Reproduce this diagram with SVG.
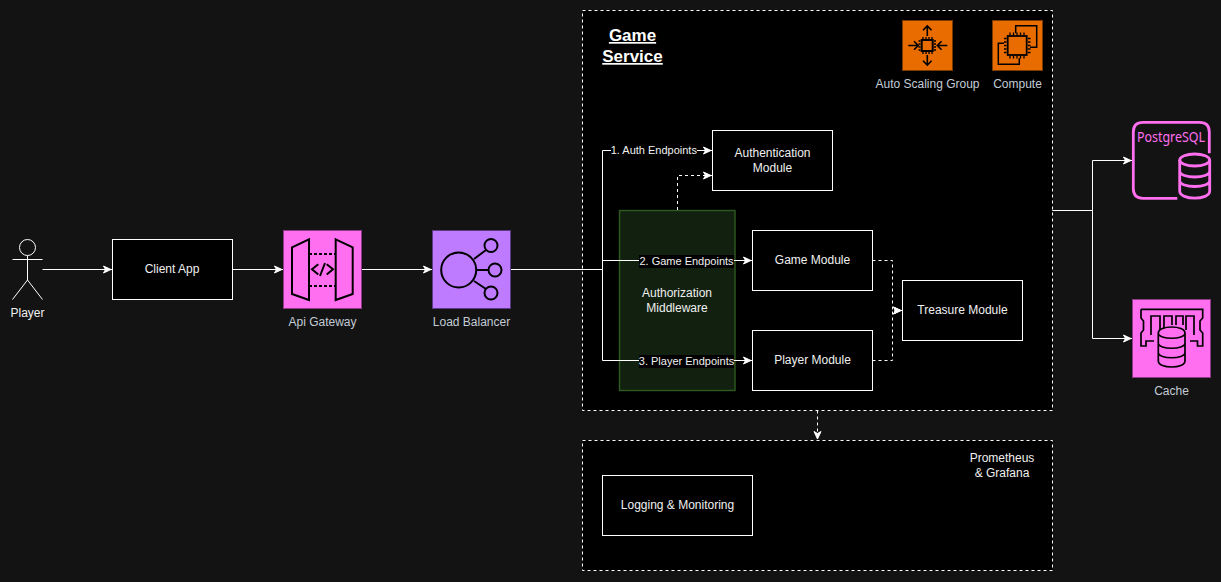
<svg xmlns="http://www.w3.org/2000/svg" width="1221" height="582" viewBox="0 0 1221 582">
<style>
text{font-family:"Liberation Sans",Arial,sans-serif;font-size:12px;fill:#f0f0f0;text-anchor:middle}
.lab{fill:#c3ccd6}
.edge{font-size:11px}
.title{font-size:17px;font-weight:bold;text-decoration:underline;fill:#fff}
.box{fill:#000;stroke:#fff;stroke-width:1}
.zone{fill:#000;stroke:#fff;stroke-width:1;stroke-dasharray:3 3}
.c{fill:none;stroke:#fff;stroke-width:1}
.d{stroke-dasharray:3 3}
.i{fill:none;stroke:#000;stroke-width:2}
.tag{fill:#000}
</style>
<defs>
<marker id="a" markerUnits="userSpaceOnUse" markerWidth="14" markerHeight="14" refX="11" refY="7" orient="auto"><path d="M2.500 3.500L10 7L2.500 10.500L4.500 7Z" fill="#fff" stroke="#fff"/></marker>
</defs>
<rect width="1221" height="582" fill="#131313"/>
<g id="game-service"><rect class="zone" x="582.5" y="10.5" width="470" height="400"/>
<text class="title" x="632.5" y="41">Game</text>
<text class="title" x="632.5" y="62">Service</text></g>
<g id="observability"><rect class="zone" x="582.5" y="440.5" width="470" height="130"/>
<text x="1002" y="462">Prometheus</text><text x="1002" y="477">&amp; Grafana</text></g>
<g id="middleware"><rect x="619.5" y="210.5" width="115.500" height="180" fill="#12210f" stroke="#2d5a1e" stroke-width="1.400"/>
<text x="677" y="297">Authorization</text><text x="677" y="312">Middleware</text></g>
<g id="connectors">
<path class="c" marker-end="url(#a)" d="M42.500 269.500H112"/>
<path class="c" marker-end="url(#a)" d="M232.500 269.500H283"/>
<path class="c" marker-end="url(#a)" d="M361.500 269.500H432"/>
<path class="c" d="M510.500 269.500H602.500"/>
<path class="c" marker-end="url(#a)" d="M602.500 269.500V150.500H712"/>
<path class="c" marker-end="url(#a)" d="M602.500 269.500V260.500H752"/>
<path class="c" marker-end="url(#a)" d="M602.500 269.500V360.500H752"/>
<path class="c d" marker-end="url(#a)" d="M677.500 210V175.500H712"/>
<path class="c d" marker-end="url(#a)" d="M872.500 260.500H892.500V310.500H902"/>
<path class="c d" marker-end="url(#a)" d="M872.500 360.500H892.500V310.500H902"/>
<path class="c d" marker-end="url(#a)" d="M817.500 410.500V440"/>
<path class="c" marker-end="url(#a)" d="M1052.500 210.500H1092.500V160.500H1132"/>
<path class="c" marker-end="url(#a)" d="M1052.500 210.500H1092.500V338.500H1132"/>
<rect class="tag" x="611" y="144" width="86" height="13"/><text class="edge" x="653.800" y="154">1. Auth Endpoints</text>
<rect class="tag" x="639" y="255" width="95" height="13"/><text class="edge" x="686.500" y="265">2. Game Endpoints</text>
<rect class="tag" x="639" y="355" width="95" height="13"/><text class="edge" x="686.500" y="365">3. Player Endpoints</text>
</g>
<g id="player"><g class="c"><circle cx="27.500" cy="247.500" r="8"/><path d="M27.500 255.500V280M12.500 259.500H42.500M27.500 280L12.500 299.500M27.500 280L42.500 299.500"/></g><text x="27.500" y="317">Player</text></g>
<g id="client-app"><rect class="box" x="112.500" y="239.500" width="120" height="60"/><text x="172" y="273">Client App</text></g>
<g id="api-gateway"><rect x="283.500" y="230.500" width="78" height="78" fill="#ff6ff0" stroke="#8d3a84"/>
<g class="i"><path d="M292 247.300L309 239.300V300L292 294Z"/><path d="M335.700 239.300L352.700 247.300V294L335.700 300Z"/><path d="M309 254H336M309 286H336" stroke-dasharray="3 2"/><path d="M318.300 264.300L312 269.300L318.300 274.500M326.700 264.300L333 269.300L326.700 274.500M325 263L320 276"/></g>
<text class="lab" x="322.500" y="326">Api Gateway</text></g>
<g id="load-balancer"><rect x="432.500" y="230.500" width="78" height="78" fill="#bf7bff" stroke="#5c3a86"/>
<g class="i"><circle cx="458.700" cy="270" r="17.500"/><circle cx="491" cy="245.500" r="6.500"/><circle cx="495" cy="270" r="6.500"/><circle cx="491" cy="293" r="6.500"/><path d="M474 259L486 250M476.500 270H488.500M474 281L486 289"/></g>
<text class="lab" x="471.500" y="326">Load Balancer</text></g>
<g id="auth-module"><rect class="box" x="712.500" y="130.500" width="120" height="60"/><text x="772.500" y="157">Authentication</text><text x="772.500" y="172">Module</text></g>
<g id="game-module"><rect class="box" x="752.500" y="230.500" width="120" height="60"/><text x="812.500" y="264">Game Module</text></g>
<g id="player-module"><rect class="box" x="752.500" y="330.500" width="120" height="60"/><text x="812.500" y="364">Player Module</text></g>
<g id="treasure-module"><rect class="box" x="902.500" y="280.500" width="120" height="60"/><text x="962.500" y="314">Treasure Module</text></g>
<g id="logging"><rect class="box" x="602.500" y="475.500" width="150" height="60"/><text x="677.500" y="509">Logging &amp; Monitoring</text></g>
<g id="auto-scaling"><rect x="902.500" y="20.500" width="50" height="50" fill="#e86c00" stroke="#7a3a00"/>
<g class="i" style="stroke-width:1.300"><rect x="921.700" y="40" width="11" height="11" style="stroke-width:2"/><path d="M923 37V39M926 37V39M929 37V39M932 37V39M923 52V54M926 52V54M929 52V54M932 52V54M918.500 41H920.500M918.500 44H920.500M918.500 47H920.500M918.500 50H920.500M934 41H936M934 44H936M934 47H936M934 50H936"/><path style="stroke-width:1.600" d="M927.300 26V36M923 30.300L927.300 26L931.600 30.300M927.300 55V65M923 60.700L927.300 65L931.600 60.700M908.300 45.500H918.300M914 41.200L918.300 45.500L914 49.800M937.300 45.500H947.300M941.600 41.200L937.300 45.500L941.600 49.800"/></g>
<text class="lab" x="927.500" y="88">Auto Scaling Group</text></g>
<g id="compute"><rect x="992.500" y="20.500" width="50" height="50" fill="#e86c00" stroke="#7a3a00"/>
<g class="i" style="stroke-width:1.300"><rect x="1007.700" y="36" width="19" height="19" style="stroke-width:1.800"/><path d="M1010 32.500V35M1013.500 32.500V35M1017 32.500V35M1020.500 32.500V35M1024 32.500V35M1010 56V58.500M1013.500 56V58.500M1017 56V58.500M1020.500 56V58.500M1024 56V58.500M1004 38.500H1006.500M1004 42H1006.500M1004 45.500H1006.500M1004 49H1006.500M1004 52.500H1006.500M1028 38.500H1030.500M1028 42H1030.500M1028 45.500H1030.500M1028 49H1030.500M1028 52.500H1030.500"/><path style="stroke-width:1.500" d="M1015.700 33.300V25.700H1036.700V47.300H1030M1004 43.300H998.300V64.300H1019.300V58.300"/></g>
<text class="lab" x="1017.500" y="88">Compute</text></g>
<g id="postgresql"><path d="M1209.300 153.300V132Q1209.300 122.300 1199.500 122.300H1143Q1133.300 122.300 1133.300 132V188.500Q1133.300 198.300 1143 198.300H1177.300" fill="none" stroke="#ff6ff0" stroke-width="2.800"/>
<text x="1171" y="142" style="font-family:'Noto Sans',sans-serif;font-size:14.500px;fill:#ff6ff0" textLength="68" lengthAdjust="spacingAndGlyphs">PostgreSQL</text>
<g fill="none" stroke="#ff6ff0" stroke-width="2.800"><ellipse cx="1194.700" cy="160" rx="15" ry="6"/><path d="M1179.700 160V191C1179.700 200.500 1209.700 200.500 1209.700 191V160M1179.700 171C1179.700 179 1209.700 179 1209.700 171M1179.700 180.500C1179.700 188.500 1209.700 188.500 1209.700 180.500"/></g></g>
<g id="cache"><rect x="1132.500" y="299.500" width="78" height="78" fill="#ff6ff0" stroke="#8d3a84"/>
<g class="i" style="stroke-width:1.700"><path d="M1141 309.300H1202.700V318L1200 321V330L1202.700 333V346H1197.500V341H1190M1141 309.300V318L1143.500 321V330L1141 333V346H1146V341H1154"/><path d="M1151 335V316H1160V330M1164 330V316H1172V325M1176 325V316H1183V325M1186 330V316H1194V335"/><path d="M1158.300 333C1158.300 325 1185 325 1185 333V361C1185 369 1158.300 369 1158.300 361ZM1158.300 333C1158.300 340 1185 340 1185 333M1158.300 343C1158.300 350 1185 350 1185 343M1158.300 352.500C1158.300 359.500 1185 359.500 1185 352.500" fill="#ff6ff0"/></g>
<text class="lab" x="1171.500" y="395">Cache</text></g>
</svg>
